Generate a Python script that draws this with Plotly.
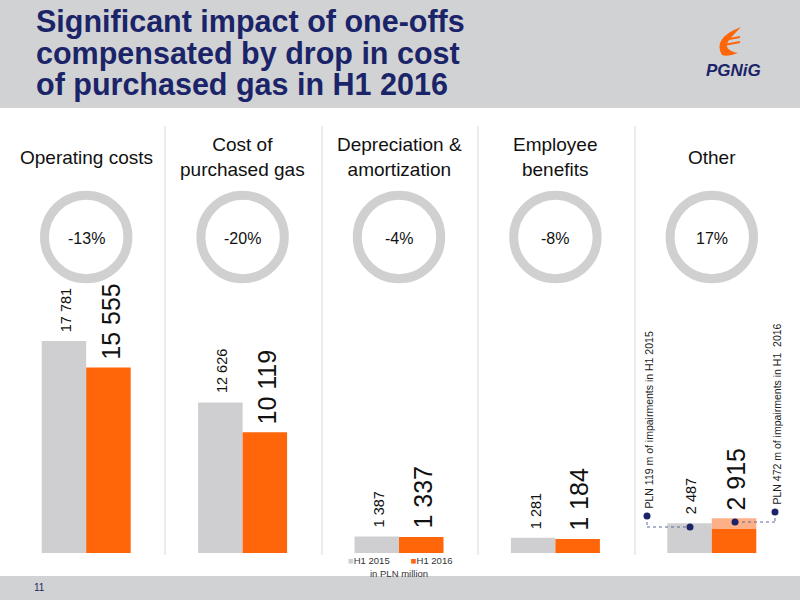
import plotly.graph_objects as go

# data (PLN million)
categories = ["Operating costs", "Cost of purchased gas", "Depreciation & amortization",
              "Employee benefits", "Other"]
header_labels = ["Operating costs", "Cost of<br>purchased gas", "Depreciation &<br>amortization",
                 "Employee<br>benefits", "Other"]
values_2015 = [17781, 12626, 1387, 1281, 2487]
values_2016 = [15555, 10119, 1337, 1184, 2915]
labels_2015 = ["17 781", "12 626", "1 387", "1 281", "2 487"]
labels_2016 = ["15 555", "10 119", "1 337", "1 184", "2 915"]
change_labels = ["-13%", "-20%", "-4%", "-8%", "17%"]
other_2016_one_off = 900  # lighter top part of the "Other" H1 2016 bar, as drawn
note_2015 = "PLN 119 m of impairments in H1 2015"
note_2016 = "PLN 472 m of impairments in H1  2016"
title_lines = ["Significant impact of one-offs", "compensated by drop in cost",
               "of purchased gas in H1 2016"]

W, H = 800, 600
GREY = "#cfcfd1"
ORANGE = "#ff6509"
LIGHT_ORANGE = "#fdb088"
NAVY = "#1b2468"
RING = "#d0d0d0"
FONT = "Liberation Sans, Arial, sans-serif"


def px(x):
    return x / W


def py(y):
    return 1 - y / H


# bars: zero line at y=553px, 17 781 reaches 341px
bar_bottom = 553
px_per_unit = (553 - 341) / 17781
y_max = bar_bottom / px_per_unit

base_2016 = list(values_2016)
base_2016[-1] = values_2016[-1] - other_2016_one_off

fig = go.Figure()
fig.add_trace(go.Bar(x=categories, y=values_2015, name="H1 2015", offsetgroup="a",
                     marker_color=GREY, marker_line_width=0))
fig.add_trace(go.Bar(x=categories, y=base_2016, name="H1 2016", offsetgroup="b",
                     marker_color=ORANGE, marker_line_width=0))
fig.add_trace(go.Bar(x=[categories[-1]], y=[other_2016_one_off], base=[base_2016[-1]],
                     offsetgroup="b", marker_color=LIGHT_ORANGE, marker_line_width=0,
                     showlegend=False))

shapes = []
annotations = []


def note(text, x, y, size, color="#111111", **kw):
    d = dict(text=text, x=px(x), y=py(y), xref="paper", yref="paper", showarrow=False,
             xanchor="center", yanchor="middle", font=dict(family=FONT, size=size, color=color))
    d.update(kw)
    annotations.append(d)


# header / footer bands
shapes.append(dict(type="rect", xref="paper", yref="paper", x0=0, x1=1, y0=py(108), y1=1,
                   fillcolor="#d1d2d4", line_width=0, layer="below"))
shapes.append(dict(type="rect", xref="paper", yref="paper", x0=0, x1=1, y0=0, y1=py(576),
                   fillcolor="#d1d2d4", line_width=0, layer="below"))

# title lines (tight leading as on the slide)
for txt, yc in zip(title_lines, [22, 53, 84]):
    note("<b>%s</b>" % txt, 34, yc, 30.5, NAVY, xanchor="left")

# logo
shapes.append(dict(type="path", xref="paper", yref="paper", line_width=0, fillcolor=ORANGE,
                   path="M %f,%f Q %f,%f %f,%f Q %f,%f %f,%f Q %f,%f %f,%f Q %f,%f %f,%f Z" % (
                       px(741), py(27), px(712), py(38), px(722), py(55),
                       px(728), py(57), px(738), py(53),
                       px(722), py(50), px(729), py(40),
                       px(735), py(33), px(741), py(27))))
for yy in [40, 45]:
    shapes.append(dict(type="line", xref="paper", yref="paper", x0=px(724), x1=px(740),
                       y0=py(yy), y1=py(yy - 3), line=dict(color=ORANGE, width=2)))
note("<b><i>PGNiG</i></b>", 733, 70, 17, NAVY)

# panel separators
for xs in [165, 322, 478, 635]:
    shapes.append(dict(type="line", xref="paper", yref="paper", x0=px(xs), x1=px(xs),
                       y0=py(555), y1=py(126), line=dict(color="#d9d9d9", width=1), layer="below"))

centers = [86.2, 242.6, 399.0, 555.4, 711.8]
ring_r = 41.7
for cx, head, ch in zip(centers, header_labels, change_labels):
    note(head, cx, 157, 19)
    shapes.append(dict(type="circle", xref="paper", yref="paper",
                       x0=px(cx - ring_r), x1=px(cx + ring_r), y0=py(237 + ring_r), y1=py(237 - ring_r),
                       line=dict(color=RING, width=9)))
    note(ch, cx, 238, 16)

# value labels above bars
for cat, v1, v2, l1, l2 in zip(categories, values_2015, values_2016, labels_2015, labels_2016):
    annotations.append(dict(text=l1, x=cat, y=v1, xref="x", yref="y", textangle=-90,
                            xanchor="center", yanchor="bottom", xshift=-20, yshift=7, showarrow=False,
                            font=dict(family=FONT, size=14.5, color="#111111")))
    annotations.append(dict(text=l2, x=cat, y=v2, xref="x", yref="y", textangle=-90,
                            xanchor="center", yanchor="bottom", xshift=24, yshift=6, showarrow=False,
                            font=dict(family=FONT, size=25, color="#111111")))

# impairment call-outs in "Other"
dash = dict(color="#5a6a9a", width=1, dash="dot")
for pts in [[(647, 516), (647, 527), (690, 527)], [(775, 512), (775, 522), (735, 522)]]:
    for (xa, ya), (xb, yb) in zip(pts[:-1], pts[1:]):
        shapes.append(dict(type="line", xref="paper", yref="paper", x0=px(xa), x1=px(xb),
                           y0=py(ya), y1=py(yb), line=dash))
    for (xd, yd) in [pts[0], pts[-1]]:
        shapes.append(dict(type="circle", xref="paper", yref="paper", x0=px(xd - 3.5), x1=px(xd + 3.5),
                           y0=py(yd + 3.5), y1=py(yd - 3.5), fillcolor=NAVY, line_width=0))
note(note_2015, 648, 511, 10.5, "#222222", textangle=-90, yanchor="bottom")
note(note_2016, 776, 507, 10.5, "#222222", textangle=-90, yanchor="bottom")

# legend and unit
note('<span style="color:%s">■</span>H1 2015        <span style="color:%s">■</span>H1 2016'
     % (GREY, ORANGE), 400, 560, 9.5, "#333333")
note("in PLN million", 399, 573, 9.5, "#333333")

# page number
note("11", 39, 587, 10, NAVY)

fig.update_layout(
    width=W, height=H,
    margin=dict(l=0, r=0, t=0, b=0, pad=0),
    paper_bgcolor="white", plot_bgcolor="rgba(0,0,0,0)",
    barmode="group", bargap=0.431, bargroupgap=0,
    showlegend=False,
    xaxis=dict(domain=[px(8), px(790)], range=[-0.5, 4.5], visible=False),
    yaxis=dict(domain=[1 - bar_bottom / H, 1], range=[0, y_max], visible=False),
    shapes=shapes, annotations=annotations,
)

fig.write_html("out.html", config={"displayModeBar": False},
               post_script="document.body.style.margin='0';")
